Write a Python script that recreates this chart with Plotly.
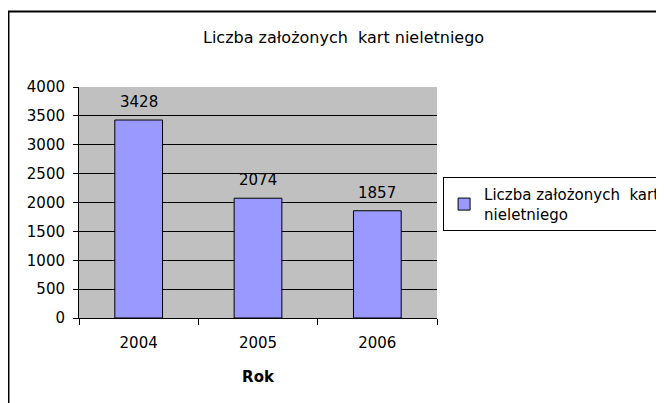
import plotly.graph_objects as go

lata = ['2004', '2005', '2006']
liczba_kart = [3428, 2074, 1857]
y_ticks = [0, 500, 1000, 1500, 2000, 2500, 3000, 3500, 4000]

tytul = 'Liczba założonych  kart nieletniego'
nazwa_serii = 'Liczba założonych  kart<br>nieletniego'

fioletowy = '#9999FF'
szary = '#C0C0C0'
font = 'DejaVu Sans, Arial, sans-serif'

fig = go.Figure()
fig.add_trace(go.Bar(
    x=lata, y=liczba_kart, name=nazwa_serii,
    marker=dict(color=fioletowy, line=dict(color='black', width=1)),
    showlegend=True,
))

# etykiety danych nad słupkami (x jako indeks kategorii)
for i, wartosc in enumerate(liczba_kart):
    fig.add_annotation(x=i, y=wartosc, text=str(wartosc), showarrow=False,
                       yanchor='bottom', yshift=7,
                       font=dict(size=15, color='black', family=font))

fig.add_annotation(x=0.74, y=1.216, xref='paper', yref='paper', text=tytul,
                   xanchor='center', yanchor='middle', showarrow=False,
                   font=dict(size=16, color='black', family=font))

# ramka wykresu
fig.add_shape(type='rect', xref='paper', yref='paper',
              x0=-0.197, y0=-0.45, x1=1.7, y1=1.327,
              line=dict(color='black', width=2), fillcolor='rgba(0,0,0,0)')

fig.update_layout(
    width=664, height=403,
    margin=dict(l=71, r=235, t=79, b=93, autoexpand=False),
    plot_bgcolor=szary, paper_bgcolor='white',
    font=dict(family=font, size=15, color='black'),
    bargap=0.6,
    showlegend=True,
    legend=dict(x=1.017, y=0.61, xanchor='left', yanchor='top',
                bordercolor='black', borderwidth=1, bgcolor='white',
                font=dict(size=15, family=font), itemwidth=30,
                tracegroupgap=0),
    xaxis=dict(
        type='category', automargin=False, range=[-0.5, 2.5],
        title=dict(text='<b>Rok</b>', font=dict(size=15, family=font), standoff=20),
        showline=True, linecolor='black', linewidth=1,
        ticks='outside', ticklen=6, tickcolor='black', tickangle=0,
        ticklabelstandoff=11,
        tickson='boundaries', showgrid=False, mirror=False,
    ),
    yaxis=dict(
        range=[0, 4000], tickvals=y_ticks, automargin=False,
        showline=True, linecolor='black', linewidth=1,
        ticks='outside', ticklen=5, tickcolor='black',
        ticklabelstandoff=5,
        showgrid=True, gridcolor='black', gridwidth=1,
        zeroline=False,
    ),
)

fig.write_html("out.html")
